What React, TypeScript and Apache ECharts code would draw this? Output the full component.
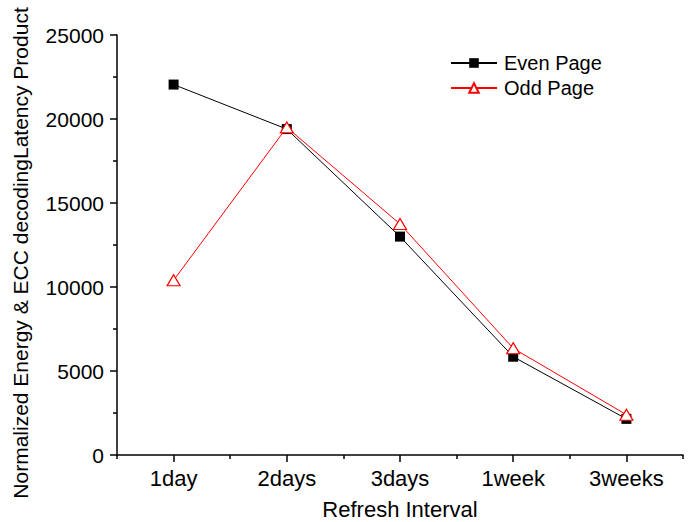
import React, { useEffect, useRef } from "react";
import * as echarts from "echarts";

const categories = ["1day", "2days", "3days", "1week", "3weeks"];
const evenPage = [22050, 19400, 13000, 5850, 2150];
const oddPage = [10400, 19500, 13750, 6350, 2400];
const seriesNames = ["Even Page", "Odd Page"];
const yAxisName = "Normalized Energy & ECC decodingLatency Product";
const xAxisName = "Refresh Interval";

const FONT = "'Liberation Sans', Arial, Helvetica, sans-serif";

export default function App() {
  const ref = useRef<HTMLDivElement>(null);
  useEffect(() => {
    if (!ref.current) return;
    const chart = echarts.init(ref.current, null, { renderer: "svg" });
    chart.setOption({
      animation: false,
      backgroundColor: "#ffffff",
      textStyle: { fontFamily: FONT, color: "#000" },
      grid: { left: 117, right: 5, top: 35, bottom: 67, containLabel: false, outerBoundsMode: "none" },
      legend: {
        orient: "vertical",
        left: 445,
        top: 48,
        itemWidth: 46,
        itemHeight: 12,
        itemGap: 5,
        data: seriesNames,
        textStyle: { fontFamily: FONT, fontSize: 20, color: "#000", lineHeight: 20, padding: [0, 0, 0, 2] },
      },
      xAxis: [
        {
          type: "category",
          data: categories,
          position: "bottom",
          boundaryGap: true,
          axisLine: { show: true, lineStyle: { color: "#000", width: 1.5 } },
          axisTick: { show: true, alignWithLabel: true, length: 7, lineStyle: { color: "#000", width: 1.5 } },
          axisLabel: { fontFamily: FONT, fontSize: 22, color: "#000", margin: 12 },
          name: xAxisName,
          nameLocation: "middle",
          nameGap: 43,
          nameTextStyle: { fontFamily: FONT, fontSize: 22, color: "#000" },
          splitLine: { show: false },
        },
        {
          type: "category",
          data: categories,
          position: "bottom",
          offset: 0,
          boundaryGap: true,
          axisLine: { show: false },
          axisTick: { show: true, alignWithLabel: false, length: 4, lineStyle: { color: "#000", width: 1.5 } },
          axisLabel: { show: false },
          splitLine: { show: false },
        },
      ],
      yAxis: {
        type: "value",
        min: 0,
        max: 25000,
        interval: 5000,
        axisLine: { show: true, lineStyle: { color: "#000", width: 1.5 } },
        axisTick: { show: true, length: 7, lineStyle: { color: "#000", width: 1.5 } },
        minorTick: { show: true, splitNumber: 2, length: 4, lineStyle: { color: "#000", width: 1.5 } },
        axisLabel: {
          fontFamily: FONT,
          fontSize: 21,
          color: "#000",
          margin: 13,
          formatter: (v: number) => String(v),
        },
        splitLine: { show: false },
        name: yAxisName,
        nameLocation: "middle",
        nameGap: 86,
        nameTextStyle: { fontFamily: FONT, fontSize: 21, color: "#000", padding: [0, 16, 0, 0] },
      },
      series: [
        {
          name: seriesNames[0],
          type: "line",
          xAxisIndex: 0,
          data: evenPage,
          symbol: "rect",
          symbolSize: 10,
          lineStyle: { color: "#000", width: 1 },
          itemStyle: { color: "#000" },
          z: 2,
        },
        {
          name: seriesNames[1],
          type: "line",
          xAxisIndex: 0,
          data: oddPage,
          symbol: "triangle",
          symbolSize: [13, 11],
          lineStyle: { color: "#ff0000", width: 1 },
          itemStyle: { color: "#ffffff", borderColor: "#ff0000", borderWidth: 1.2 },
          z: 3,
        },
      ],
    });
    return () => chart.dispose();
  }, []);
  return <div ref={ref} style={{ width: 688, height: 522, position: "absolute", left: 0, top: 0 }} />;
}
